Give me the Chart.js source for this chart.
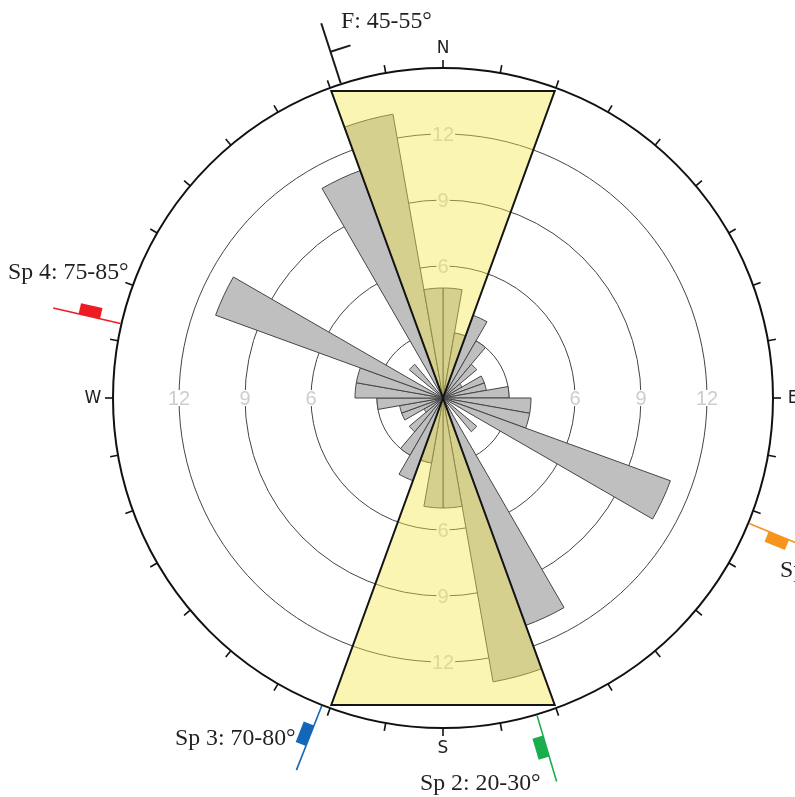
<!DOCTYPE html>
<html>
<head>
<meta charset="utf-8">
<script src="https://cdn.jsdelivr.net/npm/chart.js@4.4.1/dist/chart.umd.min.js"></script>
<style>
  html, body { margin: 0; padding: 0; background: #fff; overflow: hidden; }
  canvas { display: block; }
</style>
</head>
<body>
<canvas id="rose" width="795" height="797"></canvas>
<script>
// 10° sectors, clockwise from north
const sectorLabels = ['0°','10°','20°','30°','40°','50°','60°','70°','80°','90°','100°','110°',
  '120°','130°','140°','150°','160°','170°','180°','190°','200°','210°','220°','230°',
  '240°','250°','260°','270°','280°','290°','300°','310°','320°','330°','340°','350°'];

// strike frequency per sector (bidirectional rose)
const strikeCounts = [5.0, 3.0, 4.0, 3.0, 2.0, 1.0, 2.0, 2.0, 3.0, 4.0, 4.0, 11.0,
  0, 2.0, 0, 11.0, 13.1, 5.0,
  5.0, 3.0, 4.0, 3.0, 2.0, 1.0, 2.0, 2.0, 3.0, 4.0, 4.0, 11.0,
  0, 2.0, 0, 11.0, 13.1, 5.0];

// fault-parallel band (340°–20° and 160°–200°), straight outer edge
const faultBand = [13.95, 14.17, 14.85, 0, 0, 0, 0, 0, 0, 0, 0, 0,
  0, 0, 0, 0, 14.85, 14.17, 13.95, 14.17, 14.85, 0, 0, 0,
  0, 0, 0, 0, 0, 0, 0, 0, 0, 0, 14.85, 14.17];

// labelled rings and compass letters
const ringValues = [6, 9, 12];
const compassLabels = ['N', 'E', 'S', 'W'];

// structural measurements: name, strike azimuth, colour
const structureNames = ['F: 45-55°', 'Sp 1: 60-70°', 'Sp 2: 20-30°', 'Sp 3: 70-80°', 'Sp 4: 75-85°'];
const structureStrikes = [342, 112.3, 163.5, 201.5, 283];
const structureColors = ['#1a1a1a', '#f7941d', '#1aad4b', '#1466b8', '#ed1c24'];

function polarPoint(scale, az, r) {
  const a = (az - 90) * Math.PI / 180;
  return { x: scale.xCenter + r * Math.cos(a), y: scale.yCenter + r * Math.sin(a) };
}

const ringLabelPlugin = {
  id: 'ringLabels',
  beforeDatasetsDraw(chart) {
    const s = chart.scales.r;
    const ctx = chart.ctx;
    ctx.save();
    ctx.font = '20px "Liberation Sans", Arial, sans-serif';
    ctx.textAlign = 'center';
    ctx.textBaseline = 'middle';
    ringValues.forEach(v => {
      [0, 9, 18, 27].forEach(idx => {
        const p = s.getPointPositionForValue(idx, v);
        const txt = String(v);
        const w = ctx.measureText(txt).width;
        ctx.fillStyle = '#ffffff';
        ctx.fillRect(p.x - w / 2 - 1, p.y - 8, w + 2, 16);
        ctx.fillStyle = '#cdcdcd';
        ctx.fillText(txt, p.x, p.y + 1);
      });
    });
    ctx.restore();
  }
};

const framePlugin = {
  id: 'frame',
  afterDatasetsDraw(chart) {
    const s = chart.scales.r;
    const ctx = chart.ctx;
    const R = s.drawingArea;
    ctx.save();
    // outer tick marks every 10°
    ctx.strokeStyle = '#111';
    ctx.lineWidth = 1.6;
    sectorLabels.forEach((_, i) => {
      const a = s.getPointPosition(i, R);
      const b = s.getPointPosition(i, R + 8);
      ctx.beginPath();
      ctx.moveTo(a.x, a.y);
      ctx.lineTo(b.x, b.y);
      ctx.stroke();
    });
    // compass letters
    ctx.fillStyle = '#222';
    ctx.font = '17px "DejaVu Sans", sans-serif';
    ctx.textAlign = 'center';
    ctx.textBaseline = 'middle';
    compassLabels.forEach((t, k) => {
      const p = s.getPointPosition(k * 9, R + 20);
      ctx.fillText(t, p.x, p.y + 1);
    });
    // strike / dip symbols
    structureStrikes.forEach((az, k) => {
      const col = structureColors[k];
      const isFault = k === 0;
      const p0 = polarPoint(s, az, R + 1);
      const p1 = polarPoint(s, az, R + (isFault ? 64 : 70));
      ctx.strokeStyle = col;
      ctx.lineWidth = isFault ? 2 : 1.6;
      ctx.beginPath();
      ctx.moveTo(p0.x, p0.y);
      ctx.lineTo(p1.x, p1.y);
      ctx.stroke();
      const perp = (az + 90) * Math.PI / 180;
      const px = Math.sin(perp), py = -Math.cos(perp);
      if (isFault) {
        const t = polarPoint(s, az, R + 34);
        ctx.beginPath();
        ctx.moveTo(t.x, t.y);
        ctx.lineTo(t.x + px * 21, t.y + py * 21);
        ctx.stroke();
      } else {
        const a = polarPoint(s, az, R + 22);
        const b = polarPoint(s, az, R + 44);
        ctx.fillStyle = col;
        ctx.beginPath();
        ctx.moveTo(a.x, a.y);
        ctx.lineTo(b.x, b.y);
        ctx.lineTo(b.x + px * 11, b.y + py * 11);
        ctx.lineTo(a.x + px * 11, a.y + py * 11);
        ctx.closePath();
        ctx.fill();
      }
    });
    // symbol captions
    const captionOffsets = [[-102, -370], [337, 179], [-23, 392], [-268, 347], [-435, -119]];
    ctx.fillStyle = '#231f20';
    ctx.font = '23.8px "Liberation Serif", "Times New Roman", serif';
    ctx.textAlign = 'left';
    ctx.textBaseline = 'alphabetic';
    structureNames.forEach((name, k) => {
      const o = captionOffsets[k];
      ctx.fillText(name, s.xCenter + o[0], s.yCenter + o[1]);
    });
    ctx.restore();
  }
};

new Chart(document.getElementById('rose'), {
  type: 'polarArea',
  data: {
    labels: sectorLabels,
    datasets: [
      {
        type: 'radar',
        data: faultBand,
        order: 0,
        fill: 'shape',
        backgroundColor: 'rgba(242, 232, 72, 0.42)',
        borderColor: '#141414',
        borderWidth: 2,
        borderJoinStyle: 'miter',
        pointRadius: 0,
        pointHoverRadius: 0
      },
      {
        data: strikeCounts,
        order: 1,
        backgroundColor: '#bfbfbf',
        borderColor: '#454545',
        borderWidth: 1
      }
    ]
  },
  options: {
    responsive: false,
    animation: false,
    devicePixelRatio: 1,
    layout: { padding: { left: 113, right: 22, top: 68, bottom: 69 } },
    plugins: { legend: { display: false }, tooltip: { enabled: false } },
    scales: {
      r: {
        min: 0,
        max: 15,
        startAngle: 0,
        ticks: { display: false, stepSize: 3 },
        grid: {
          circular: true,
          color: c => (c.tick && c.tick.value === 15) ? '#111' : '#444',
          lineWidth: c => (c.tick && c.tick.value === 15) ? 2 : 1
        },
        angleLines: { display: false },
        pointLabels: { display: false }
      }
    }
  },
  plugins: [ringLabelPlugin, framePlugin]
});
</script>
</body>
</html>
